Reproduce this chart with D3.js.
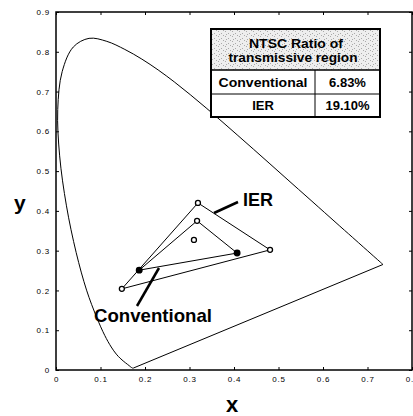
<!DOCTYPE html>
<html><head><meta charset="utf-8">
<script src="https://cdn.jsdelivr.net/npm/d3@7"></script>
<style>body{margin:0;background:#fff}svg{display:block}</style>
</head><body>
<svg id="c" width="413" height="416"></svg>
<script>
// CIE 1931 spectral locus (x, y)
const locus = [
[0.1741,0.0050],[0.1740,0.0050],[0.1738,0.0049],[0.1736,0.0049],[0.1733,0.0048],[0.1730,0.0048],
[0.1726,0.0048],[0.1721,0.0048],[0.1714,0.0051],[0.1703,0.0058],[0.1689,0.0069],[0.1669,0.0086],
[0.1644,0.0109],[0.1611,0.0138],[0.1566,0.0177],[0.1510,0.0227],[0.1440,0.0297],[0.1355,0.0399],
[0.1241,0.0578],[0.1096,0.0868],[0.0913,0.1327],[0.0687,0.2007],[0.0454,0.2950],[0.0235,0.4127],
[0.0082,0.5384],[0.0039,0.6548],[0.0139,0.7502],[0.0389,0.8120],[0.0743,0.8338],[0.1142,0.8262],
[0.1547,0.8059],[0.1929,0.7816],[0.2296,0.7543],[0.2658,0.7243],[0.3016,0.6923],[0.3373,0.6589],
[0.3731,0.6245],[0.4087,0.5896],[0.4441,0.5547],[0.4788,0.5202],[0.5125,0.4866],[0.5448,0.4544],
[0.5752,0.4242],[0.6029,0.3965],[0.6270,0.3725],[0.6482,0.3514],[0.6658,0.3340],[0.6801,0.3197],
[0.6915,0.3083],[0.7006,0.2993],[0.7079,0.2920],[0.7140,0.2859],[0.7190,0.2809],[0.7230,0.2770],
[0.7260,0.2740],[0.7283,0.2717],[0.7300,0.2700],[0.7311,0.2689],[0.7320,0.2680],[0.7334,0.2666],
[0.7344,0.2656],[0.7347,0.2653]
];
const ierTri = [[0.319,0.420],[0.481,0.302],[0.148,0.204]];
const convTri = [[0.317,0.375],[0.407,0.294],[0.187,0.251]];
const convFilled = [false,true,true];
const whitePoint = [0.310,0.327];
const xTicks = [0,0.1,0.2,0.3,0.4,0.5,0.6,0.7,0.8];
const yTicks = [0,0.1,0.2,0.3,0.4,0.5,0.6,0.7,0.8,0.9];
const tableHeader = ["NTSC Ratio of","transmissive region"];
const tableRows = [["Conventional","6.83%"],["IER","19.10%"]];

const svg = d3.select("#c");
const x = d3.scaleLinear().domain([0,0.8]).range([56,412]);
const y = d3.scaleLinear().domain([0,0.9]).range([370,12]);

const fmt = d => d===0 ? "0" : d3.format(".1f")(d);
const ax = g => g.attr("font-family","Arial, Liberation Sans, sans-serif").attr("font-size",8).attr("letter-spacing","0.8");
svg.append("g").attr("transform","translate(0,370)")
  .call(d3.axisBottom(x).tickValues(xTicks).tickFormat(fmt).tickSizeInner(-3).tickSizeOuter(0).tickPadding(6))
  .call(ax).call(g=>g.select(".domain").remove());
svg.append("g").attr("transform","translate(56,0)")
  .call(d3.axisLeft(y).tickValues(yTicks).tickFormat(fmt).tickSizeInner(-3).tickSizeOuter(0).tickPadding(6))
  .call(ax).call(g=>g.select(".domain").remove());
svg.append("g").attr("transform","translate(0,12)")
  .call(d3.axisTop(x).tickValues(xTicks).tickFormat("").tickSizeInner(-3).tickSizeOuter(0))
  .call(g=>g.select(".domain").remove());
svg.append("g").attr("transform","translate(412,0)")
  .call(d3.axisRight(y).tickValues(yTicks).tickFormat("").tickSizeInner(-3).tickSizeOuter(0))
  .call(g=>g.select(".domain").remove());
svg.selectAll(".tick line").attr("stroke","#000").attr("stroke-width",1);
svg.selectAll(".tick text").attr("fill","#000");

svg.append("rect").attr("x",x(0)).attr("y",y(0.9)).attr("width",x(0.8)-x(0)).attr("height",y(0)-y(0.9))
  .attr("fill","none").attr("stroke","#000").attr("stroke-width",1.5);

const curve = d3.line().x(d=>x(d[0])).y(d=>y(d[1])).curve(d3.curveCatmullRom.alpha(0.5));
const line = d3.line().x(d=>x(d[0])).y(d=>y(d[1]));
svg.append("path").attr("d", curve(locus)).attr("fill","none").attr("stroke","#000").attr("stroke-width",1);
svg.append("path").attr("d", line([locus[locus.length-1], locus[0]])).attr("fill","none").attr("stroke","#000").attr("stroke-width",1);

svg.append("path").attr("d", line(ierTri)+"Z").attr("fill","none").attr("stroke","#000").attr("stroke-width",1);
svg.append("path").attr("d", line(convTri)+"Z").attr("fill","none").attr("stroke","#000").attr("stroke-width",1);

ierTri.forEach(p=>svg.append("circle").attr("cx",x(p[0])).attr("cy",y(p[1])).attr("r",2.5)
  .attr("fill","#fff").attr("stroke","#000").attr("stroke-width",1.3));
convTri.forEach((p,i)=>svg.append("circle").attr("cx",x(p[0])).attr("cy",y(p[1])).attr("r",convFilled[i]?2.8:2.5)
  .attr("fill",convFilled[i]?"#000":"#fff").attr("stroke","#000").attr("stroke-width",1.3));
svg.append("circle").attr("cx",x(whitePoint[0])).attr("cy",y(whitePoint[1])).attr("r",2.5)
  .attr("fill","#fff").attr("stroke","#000").attr("stroke-width",1.3);

// leader lines and labels
svg.append("line").attr("x1",238).attr("y1",202).attr("x2",214).attr("y2",213).attr("stroke","#000").attr("stroke-width",2.5);
svg.append("line").attr("x1",159).attr("y1",268).attr("x2",137).attr("y2",306).attr("stroke","#000").attr("stroke-width",2.5);
const bold = "Arial, Liberation Sans, sans-serif";
svg.append("text").attr("x",243).attr("y",206).attr("font-family",bold).attr("font-weight","bold").attr("font-size",18).text("IER");
svg.append("text").attr("x",94).attr("y",322).attr("font-family",bold).attr("font-weight","bold").attr("font-size",18.5)
  .attr("textLength",118).attr("lengthAdjust","spacingAndGlyphs").text("Conventional");
svg.append("text").attr("x",14).attr("y",210).attr("font-family",bold).attr("font-weight","bold").attr("font-size",21).text("y");
svg.append("text").attr("x",232).attr("y",412).attr("text-anchor","middle").attr("font-family",bold).attr("font-weight","bold").attr("font-size",22).text("x");

// table
const T = {x0:211, x1:380, y0:29, yh:70, y1:94, y2:117, xc:315};
const defs = svg.append("defs");
const pat = defs.append("pattern").attr("id","stip").attr("width",7).attr("height",5).attr("patternUnits","userSpaceOnUse");
pat.append("rect").attr("width",7).attr("height",5).attr("fill","#eeeeee");
[[1,1],[4,3],[6,0],[2,4]].forEach(d=>pat.append("rect").attr("x",d[0]).attr("y",d[1]).attr("width",1).attr("height",1).attr("fill","#aaa"));
const tb = svg.append("g");
tb.append("rect").attr("x",T.x0).attr("y",T.y0).attr("width",T.x1-T.x0).attr("height",T.y2-T.y0).attr("fill","#fff");
tb.append("rect").attr("x",T.x0).attr("y",T.y0).attr("width",T.x1-T.x0).attr("height",T.yh-T.y0).attr("fill","url(#stip)");
tb.append("line").attr("x1",T.x0).attr("x2",T.x1).attr("y1",T.yh).attr("y2",T.yh).attr("stroke","#000").attr("stroke-width",1.5);
tb.append("line").attr("x1",T.x0).attr("x2",T.x1).attr("y1",T.y1).attr("y2",T.y1).attr("stroke","#000").attr("stroke-width",1);
tb.append("line").attr("x1",T.xc).attr("x2",T.xc).attr("y1",T.yh).attr("y2",T.y2).attr("stroke","#000").attr("stroke-width",1);
tb.append("rect").attr("x",T.x0).attr("y",T.y0).attr("width",T.x1-T.x0).attr("height",T.y2-T.y0)
  .attr("fill","none").attr("stroke","#000").attr("stroke-width",2);
const tf = s => s.attr("font-family",bold).attr("font-weight","bold").attr("text-anchor","middle").attr("fill","#000");
tb.append("text").attr("x",296).attr("y",48).attr("font-size",12).call(tf).attr("textLength",94).attr("lengthAdjust","spacingAndGlyphs").text(tableHeader[0]);
tb.append("text").attr("x",293).attr("y",62).attr("font-size",12).call(tf).attr("textLength",129).attr("lengthAdjust","spacingAndGlyphs").text(tableHeader[1]);
const rowY = [T.yh, T.y1];
const rowH = [T.y1-T.yh, T.y2-T.y1];
tableRows.forEach((r,i)=>{
  const cy = rowY[i]+rowH[i]/2+4.5;
  const t1 = tb.append("text").attr("x",(T.x0+T.xc)/2).attr("y",cy).attr("font-size",13).call(tf).text(r[0]);
  if(i===0) t1.attr("textLength",89).attr("lengthAdjust","spacingAndGlyphs");
  tb.append("text").attr("x",(T.xc+T.x1)/2).attr("y",cy).attr("font-size",13).call(tf).text(r[1]);
});
</script>
</body></html>
